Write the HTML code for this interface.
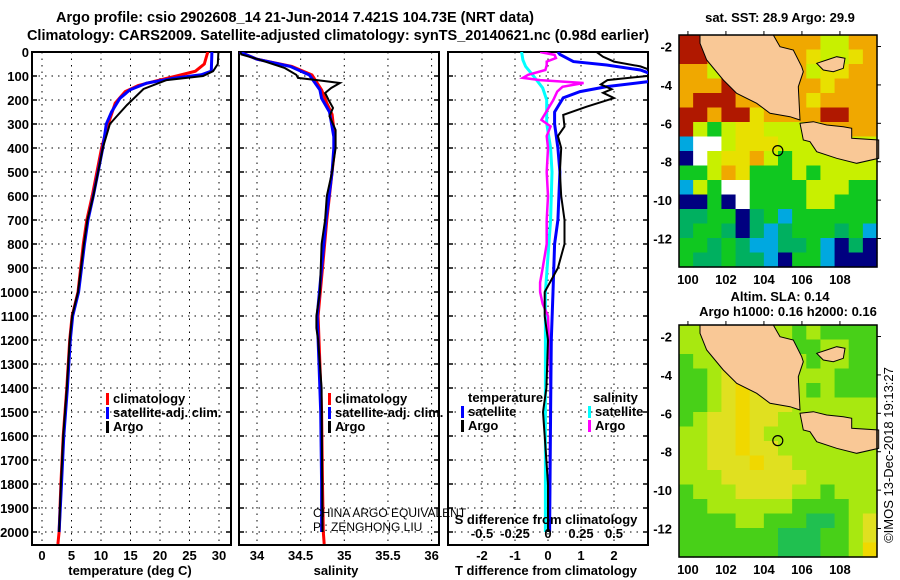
<!DOCTYPE html>
<html><head><meta charset="utf-8">
<style>
body{margin:0;background:#fff;}
svg{display:block;font-family:"Liberation Sans",sans-serif;}
.t{font-weight:bold;font-size:13px;}
.tt{font-weight:bold;font-size:14.5px;}
.tk{font-weight:bold;font-size:13px;}
</style></head>
<body>
<svg id="fig" width="900" height="580" viewBox="0 0 900 580" xmlns="http://www.w3.org/2000/svg">
<text class="tt" x="295" y="22" text-anchor="middle">Argo profile: csio 2902608_14 21-Jun-2014 7.421S 104.73E (NRT data)</text>
<text class="tt" x="338" y="40" text-anchor="middle">Climatology: CARS2009. Satellite-adjusted climatology: synTS_20140621.nc (0.98d earlier)</text>
<g id="g1"></g>
<g id="g2"></g>
<g id="g3"></g>
<g id="m1"></g>
<g id="m2"></g>
<text class="t" x="780" y="22" text-anchor="middle">sat. SST: 28.9 Argo: 29.9</text>
<text class="t" x="780" y="301" text-anchor="middle">Altim. SLA: 0.14</text>
<text class="t" x="788" y="316" text-anchor="middle">Argo h1000: 0.16 h2000: 0.16</text>
<text x="893" y="455" font-size="13" text-anchor="middle" transform="rotate(-90 893 455)">©IMOS 13-Dec-2018 19:13:27</text>
</svg>
<script>
const NS="http://www.w3.org/2000/svg";
function mk(p,tag,at,txt){const e=document.createElementNS(NS,tag);for(const k in at)e.setAttribute(k,at[k]);if(txt!==undefined)e.textContent=txt;p.appendChild(e);return e;}

// ---------- data ----------
const depthTicks=[0,100,200,300,400,500,600,700,800,900,1000,1100,1200,1300,1400,1500,1600,1700,1800,1900,2000];
const tempTicks=[0,5,10,15,20,25,30];
const salTicks=[34,34.5,35,35.5,36];
const tdiffTicks=[-2,-1,0,1,2];
const sdiffTicks=[-0.5,-0.25,0,0.25,0.5];

const climTDepth=[0,50,80,100,120,140,165,213,317,400,500,600,700,800,1000,1100,1200,1400,1500,1600,1800,2000,2050];
const climT=[28.1,27.5,26.0,22.8,19.4,16.3,14.1,12.4,11.0,10.1,9.3,8.5,7.6,7.0,6.1,5.1,4.7,4.2,3.9,3.6,3.2,2.9,2.7];
const satTDepth=[0,80,95,110,130,158,193,249,300,400,500,600,700,800,1000,1100,1200,1400,1500,1600,1800,2000];
const satT=[28.8,28.7,27.0,22.2,17.7,14.9,13.2,11.8,10.9,10.3,9.5,8.7,7.8,7.2,6.2,5.2,4.8,4.3,4.0,3.7,3.3,2.9];
const argoTDepth=[0,50,80,100,117,154,221,275,300,400,500,600,700,800,1000,1100,1200,1400,1500,1600,1800,2000];
const argoT=[29.9,29.8,29.0,27.3,21.1,17.2,14.4,12.4,11.5,10.3,9.5,8.7,7.7,7.1,6.1,5.1,4.7,4.2,3.9,3.6,3.2,2.9];

const climSDepth=[0,30,60,96,158,213,260,353,400,500,700,900,1100,1300,1500,1800,2000,2050];
const climS=[33.8,34.0,34.4,34.63,34.74,34.80,34.86,34.89,34.89,34.86,34.8,34.75,34.7,34.72,34.74,34.75,34.76,34.77];
const satSDepth=[0,30,60,96,158,193,250,353,400,500,700,900,1100,1300,1500,1800,2000];
const satS=[33.8,34.0,34.38,34.6,34.72,34.74,34.83,34.88,34.88,34.86,34.79,34.74,34.69,34.71,34.73,34.74,34.74];
const argoSDepth=[0,10,30,67,95,108,118,129,150,171,200,233,267,325,400,500,600,700,800,1000,1100,1150,1200,1400,2000];
const argoS=[33.81,33.82,34.01,34.32,34.45,34.47,34.7,34.95,34.85,34.78,34.82,34.87,34.83,34.9,34.9,34.86,34.8,34.78,34.74,34.72,34.68,34.68,34.7,34.74,34.75];

const satTdDepth=[0,10,40,54,75,90,110,124,144,165,191,250,300,400,500,700,800,1000,1200,1500,2000];
const satTd=[0.3,0.36,0.77,1.78,2.8,3.1,3.2,3.0,1.78,0.97,0.46,0.2,0.2,0.3,0.36,0.3,0.2,0.15,0.1,0.08,0.05];
const argoTdDepth=[0,20,40,60,80,100,117,135,155,170,192,228,262,311,350,400,500,600,700,800,900,1000,1100,1200,1400,1500,1600,1800,2000];
const argoTd=[1.47,1.67,2.0,2.8,3.2,3.0,1.8,1.6,1.93,1.67,2.0,1.17,0.46,0.5,0.3,0.4,0.36,0.4,0.5,0.5,0.3,-0.1,-0.1,0.0,-0.05,-0.15,-0.1,0.0,0.0];
const satSdDepth=[0,33,60,100,150,200,297,400,500,700,1000,1400,2000];
const satSd=[-0.2,-0.19,-0.17,-0.11,-0.04,-0.01,-0.01,0.02,0.03,0.02,-0.02,-0.02,-0.02];
const argoSdDepth=[0,12,25,40,55,75,95,108,117,129,145,165,200,283,310,350,400,500,600,700,800,900,960,1000,1050,1100,1400,2000];
const argoSd=[-0.06,0.05,0.06,-0.01,-0.01,-0.02,-0.15,-0.19,-0.06,0.27,0.11,0.07,0.04,-0.05,0.02,-0.01,0,-0.01,0,-0.01,-0.01,-0.04,-0.06,-0.06,-0.04,0,0.02,0.01];

// map colour grids (coarse readings of the images)
const sstRows=["RROOOOOOOOLLOO","RROOOOOOOYLLYO","OOLOOOOOOLYYOO","OOOROOOOOOYOOO","ORRROOOOOYOOOO","RRORRYOOOORROO","RLGLYYLLLLOOOO","CWWLYYYLLLLLLL","NWLYYOLGLLLLLL","GGLOYGGGLGLLLL","CLGWWGGGGLLLGG","NNGNWGGGGLLGGG","TTGGNTGCGGGGGG","TGGTNTCTGGGTGC","GGTGTCCTTGCNTN","GTTGTTCNGGCNNN"];
const slaRows=["LLLLLLLLGLGGGG","LLLLLLLLGGLLGG","GLLYLLLLLGLLGG","GGLYYYLLLLLGGG","GGLYOYYLLGLGGG","GGLYOYYYLLLLLL","GLYYOYYLLLLLLL","LLYYOYLLLLLLLL","LLYYOYYLLLLLLL","LLYYYOYYLLLLLL","LLLYYYYYYLLLLL","GLLLYYYYLLGLLL","GGLLLLLLGGGGLL","GGGGLLGGGTTGLY","GGGGGGGTTTGGLY","GGGGGGGTTTGGLO"];
const sstCol={R:"#b01800",O:"#f0a800",Y:"#e8e000",L:"#c8f000",G:"#10c820",T:"#00b060",C:"#00a8e0",N:"#000080",W:"#ffffff"};
const slaCol={G:"#48d018",L:"#a8e810",Y:"#e0e020",O:"#f0d800",T:"#20c050"};
const mapLon=[100,102,104,106,108];
const mapLat=[-2,-4,-6,-8,-10,-12];
const floatLon=104.73, floatLat=-7.421;

// ---------- profile panels ----------
const Y0=52, PY=0.24, YB=545;
const yD=d=>Y0+d*PY;
function panel(g,x0,x1){
  mk(g,"rect",{x:x0,y:Y0,width:x1-x0,height:YB-Y0,fill:"#fff",stroke:"#000","stroke-width":2});
}
function grid(g,x0,x1,xs){
  depthTicks.forEach(d=>{const y=yD(d);
    const l=mk(g,"line",{x1:x0,x2:x1,y1:y,y2:y,stroke:"#000","stroke-dasharray":"1.5,5"});
    
    
    mk(g,"line",{x1:x0,x2:x0+5,y1:y,y2:y,stroke:"#000","stroke-width":1.5});
    mk(g,"line",{x1:x1-5,x2:x1,y1:y,y2:y,stroke:"#000","stroke-width":1.5});});
  xs.forEach(x=>{const l=mk(g,"line",{x1:x,x2:x,y1:Y0,y2:YB,stroke:"#000","stroke-dasharray":"1.5,5"});
    
    });
}
function line(g,xs,ds,fx,col,w,name){
  const pts=xs.map((v,i)=>fx(v).toFixed(1)+","+yD(ds[i]).toFixed(1)).join(" ");
  const p=mk(g,"polyline",{points:pts,fill:"none",stroke:col,"stroke-width":w,"stroke-linejoin":"miter"});
  
  
}
function clip(svg,id,x0,x1){const c=mk(svg,"clipPath",{id:id});mk(c,"rect",{x:x0,y:Y0,width:x1-x0,height:YB-Y0});}
const svg=document.getElementById("fig");
// panel 1
const g1=document.getElementById("g1");
const xT=t=>42+5.9*t;
panel(g1,32,231);
grid(g1,32,231,tempTicks.map(xT));
clip(svg,"c1",32,231);clip(svg,"c2",239,439);clip(svg,"c3",448,648);
const l1=mk(g1,"g",{"clip-path":"url(#c1)"});
line(l1,climT,climTDepth,xT,"#ff0000",3,"climatology-temp-line");
line(l1,satT,satTDepth,xT,"#0000ff",3,"satellite-temp-line");
line(l1,argoT,argoTDepth,xT,"#000",2,"argo-temp-line");
depthTicks.forEach(d=>{const t=mk(g1,"text",{class:"tk",x:29,y:yD(d)+5,"text-anchor":"end"},String(d));
  
  });
tempTicks.forEach(v=>{const t=mk(g1,"text",{class:"tk",x:xT(v),y:560,"text-anchor":"middle"},String(v));
  
  });
mk(g1,"text",{class:"t",x:130,y:575,"text-anchor":"middle",},"temperature (deg C)");
function legend(g,x,y,items,name){items.forEach((it,i)=>{
  const yy=y+i*14;
  mk(g,"rect",{x:x,y:yy-10,width:3,height:12,fill:it[1]});
  const t=mk(g,"text",{class:"t",x:x+7,y:yy,"font-size":"12"},it[0]);
  
  });}
legend(g1,106,403,[["climatology","#ff0000"],["satellite-adj. clim.","#0000ff"],["Argo","#000"]],"temp-legend");
// panel 2
const g2=document.getElementById("g2");
const xS=s=>257+87.3*(s-34);
panel(g2,239,439);
grid(g2,239,439,salTicks.map(xS));
const l2=mk(g2,"g",{"clip-path":"url(#c2)"});
line(l2,climS,climSDepth,xS,"#ff0000",3,"climatology-sal-line");
line(l2,satS,satSDepth,xS,"#0000ff",3,"satellite-sal-line");
line(l2,argoS,argoSDepth,xS,"#000",2,"argo-sal-line");
salTicks.forEach(v=>{const t=mk(g2,"text",{class:"tk",x:xS(v),y:560,"text-anchor":"middle"},String(v));
  
  });
mk(g2,"text",{class:"t",x:336,y:575,"text-anchor":"middle",},"salinity");
legend(g2,328,403,[["climatology","#ff0000"],["satellite-adj. clim.","#0000ff"],["Argo","#000"]],"sal-legend");
// panel 3
const g3=document.getElementById("g3");
const xTd=v=>548+33*v, xSd=v=>548+132*v;
panel(g3,448,648);
grid(g3,448,648,tdiffTicks.map(xTd));
const l3=mk(g3,"g",{"clip-path":"url(#c3)"});
line(l3,satSd,satSdDepth,xSd,"#00ffff",3,"satellite-sal-diff-line");
line(l3,argoSd,argoSdDepth,xSd,"#ff00ff",2.5,"argo-sal-diff-line");
line(l3,satTd,satTdDepth,xTd,"#0000ff",3,"satellite-temp-diff-line");
line(l3,argoTd,argoTdDepth,xTd,"#000",2,"argo-temp-diff-line");
tdiffTicks.forEach(v=>{const t=mk(g3,"text",{class:"tk",x:xTd(v),y:560,"text-anchor":"middle"},String(v));
  
  });
sdiffTicks.forEach(v=>{const t=mk(g3,"text",{class:"tk",x:xSd(v),y:538,"text-anchor":"middle"},String(v));
  
  });
mk(g3,"text",{class:"t",x:546,y:524,"text-anchor":"middle",},"S difference from climatology");
mk(g3,"text",{class:"t",x:546,y:575,"text-anchor":"middle",},"T difference from climatology");
mk(g3,"text",{class:"t",x:468,y:402,},"temperature");
legend(g3,461,416,[["satellite","#0000ff"],["Argo","#000"]],"temp-diff-legend");
mk(g3,"text",{class:"t",x:593,y:402,},"salinity");
legend(g3,588,416,[["satellite","#00ffff"],["Argo","#ff00ff"]],"sal-diff-legend");
mk(svg,"text",{x:313,y:517,"font-size":"12",},"CHINA ARGO EQUIVALENT");
mk(svg,"text",{x:313,y:531,"font-size":"12",},"PI: ZENGHONG LIU");

// ---------- maps ----------
const MX0=679,MX1=877,LON0=99.53,DX=19.0,LAT0=-1.4,DY=19.2;
function drawMap(g,top,rows,cols,name){
  const H=232,W=MX1-MX0;
  const xL=l=>MX0+(l-LON0)*DX, yL=l=>top+(LAT0-l)*DY;
  const nr=rows.length,nc=rows[0].length,cw=W/nc,ch=H/nr;
  rows.forEach((r,i)=>{for(let j=0;j<nc;j++){
    const c=mk(g,"rect",{x:(MX0+j*cw).toFixed(2),y:(top+i*ch).toFixed(2),width:(cw+0.6).toFixed(2),height:(ch+0.6).toFixed(2),fill:cols[r[j]]});
    
    }});
  const P=a=>a.map(p=>(p[0]/3+670).toFixed(1)+","+(p[1]/3-105/3+top).toFixed(1)).join(" ");
  const sum=[[90,105],[310,105],[330,140],[370,150],[395,200],[400,215],[385,260],[390,360],[360,350],[330,345],[300,340],[260,310],[200,280],[160,240],[110,180],[90,130]];
  const jav=[[390,370],[430,365],[470,375],[520,380],[545,385],[545,415],[626,420],[626,475],[560,490],[500,475],[440,455],[420,425],[400,420],[395,395]];
  const isl=[[440,190],[470,180],[500,170],[525,175],[520,205],[490,215],[460,210]];
  [[sum,"sumatra-land"],[jav,"java-land"],[isl,"island-land"]].forEach(s=>{
    const p=mk(g,"polygon",{points:P(s[0]),fill:"#f9c896",stroke:"#000","stroke-width":1});
    
    });
  mk(g,"circle",{cx:xL(floatLon),cy:yL(floatLat),r:5,fill:"none",stroke:"#000","stroke-width":1.2,});
  mk(g,"rect",{x:MX0,y:top,width:W,height:H,fill:"none",stroke:"#000","stroke-width":1.5});
  mapLon.forEach(l=>{const x=xL(l);mk(g,"line",{x1:x,x2:x,y1:top,y2:top-4,stroke:"#000"});
    const t=mk(g,"text",{class:"tk",x:x,y:top+H+17,"text-anchor":"middle"},String(l));
    
    });
  mapLat.forEach(l=>{const y=yL(l);mk(g,"line",{x1:MX1,x2:MX1+4,y1:y,y2:y,stroke:"#000"});
    const t=mk(g,"text",{class:"tk",x:672,y:y+5,"text-anchor":"end"},String(l));
    
    });
}
drawMap(document.getElementById("m1"),35,sstRows,sstCol,"sst-map");
drawMap(document.getElementById("m2"),325,slaRows,slaCol,"sla-map");
</script>
</body></html>
